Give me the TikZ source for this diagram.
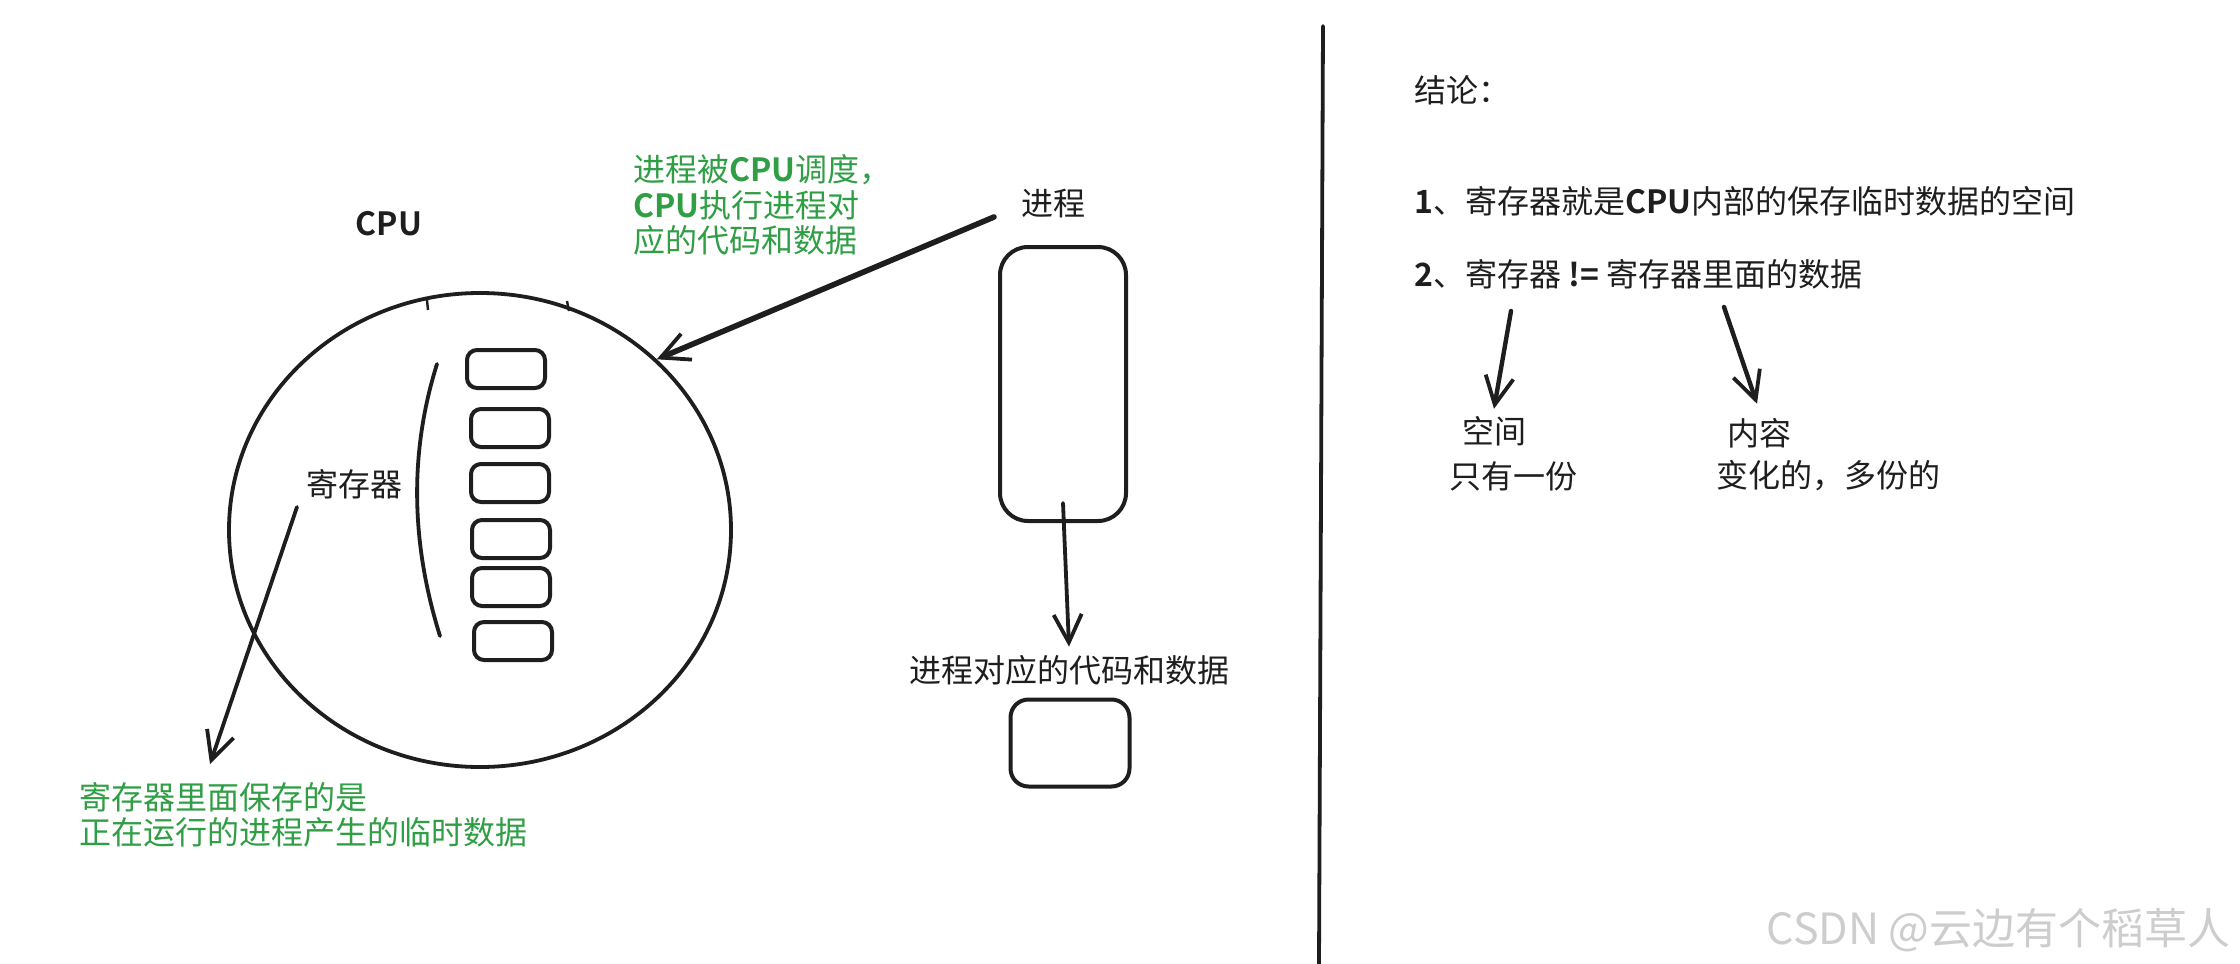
\documentclass[tikz,border=0pt]{standalone}
\usepackage{fontspec}
\setmainfont{Noto Sans CJK SC}[BoldFont={Noto Sans CJK SC Bold}]
\usetikzlibrary{arrows.meta,shapes.geometric}
\definecolor{ink}{RGB}{30,30,30}
\definecolor{note}{RGB}{47,158,68}
\definecolor{wm}{RGB}{205,205,205}
\begin{document}
\begin{tikzpicture}[x=0.5pt,y=-0.5pt,
  txt/.style={font=\fontsize{16}{17.8}\selectfont, text=ink, inner sep=0pt},
  greentxt/.style={txt, text=note, align=left},
  regbox/.style={draw=ink, line width=2pt, rounded corners=5pt, minimum width=39pt, minimum height=19pt, inner sep=0pt},
  arr/.style={draw=ink, line width=1.9pt, line cap=round, -{Straight Barb[length=14pt,width=14pt,line width=1.9pt]}},
]
\useasboundingbox[fill=white] (0,0) rectangle (2240,964);

% divider
\draw[ink, line width=1.9pt, line cap=round] (1323,26) -- (1319,964);

% CPU
\node[txt, font=\fontsize{16}{18}\selectfont\bfseries] (cpulbl) at (389,224) {CPU};
\node[ellipse, draw=ink, line width=1.9pt, minimum width=251pt, minimum height=237pt, inner sep=0pt] (cpuc) at (480,530) {};
\draw[ink, line width=1.2pt] (427,300) -- (428,310) (567,301) -- (569,311);

% registers
\node[regbox] (r1) at (506,369) {};
\node[regbox] (r2) at (510,428) {};
\node[regbox] (r3) at (510,483) {};
\node[regbox] (r4) at (511,539) {};
\node[regbox] (r5) at (511,587) {};
\node[regbox] (r6) at (513,641) {};
\draw[ink, line width=1.9pt, line cap=round] (437,364) .. controls (410,450) and (410,540) .. (440,636);
\node[txt] (reg) at (354,484) {寄存器};

% note bottom-left
\node[greentxt, anchor=west] (note2) at (79,815) {寄存器里面保存的是\\正在运行的进程产生的临时数据};
\coordinate (ra) at (297,507);
\coordinate (rb) at (210,764);
\draw[arr] (ra) -- (rb);

% process
\node[greentxt, anchor=west] (note1) at (633,205) {进程被\textbf{CPU}调度，\\\textbf{CPU}执行进程对\\应的代码和数据};
\node[txt] (proc) at (1053,204) {进程};
\coordinate (pa) at (994,217);
\draw[arr, line width=2.8pt] (pa) -- (cpuc.44);
\node[draw=ink, line width=2pt, rounded corners=14pt, minimum width=63pt, minimum height=137pt, inner sep=0pt] (prect) at (1063,384) {};
\node[txt] (code) at (1069,670) {进程对应的代码和数据};
\node[draw=ink, line width=2pt, rounded corners=9pt, minimum width=59.5pt, minimum height=43.5pt, inner sep=0pt] (cbox) at (1070,743) {};
\draw[arr] ([yshift=10pt]prect.south) -- ([yshift=4pt]code.north);

% conclusions
\node[txt, anchor=west] (concl) at (1414,90) {结论：};
\node[txt, anchor=west] (l1) at (1414,201) {\textbf{1}、寄存器就是\textbf{CPU}内部的保存临时数据的空间};
\node[txt, anchor=west] (l2) at (1414,274) {\textbf{2}、寄存器 \textbf{!=} 寄存器里面的数据};
\node[txt] (space) at (1494,431) {空间};
\node[txt] (once) at (1513,476) {只有一份};
\node[txt] (content) at (1759,433) {内容};
\node[txt] (many) at (1828,476) {变化的，多份的};
\coordinate (sa) at (1511,311);
\coordinate (ca) at (1724,307);
\draw[arr, line width=2.2pt] (sa) -- ([yshift=3.5pt]space.north);
\draw[arr, line width=2.2pt] (ca) -- ([xshift=-1pt,yshift=7pt]content.north);

% watermark
\node[font=\fontsize{21.5}{24}\selectfont, text=wm, inner sep=0pt, anchor=east] (wmk) at (2231,930) {CSDN @云边有个稻草人};
\end{tikzpicture}
\end{document}
